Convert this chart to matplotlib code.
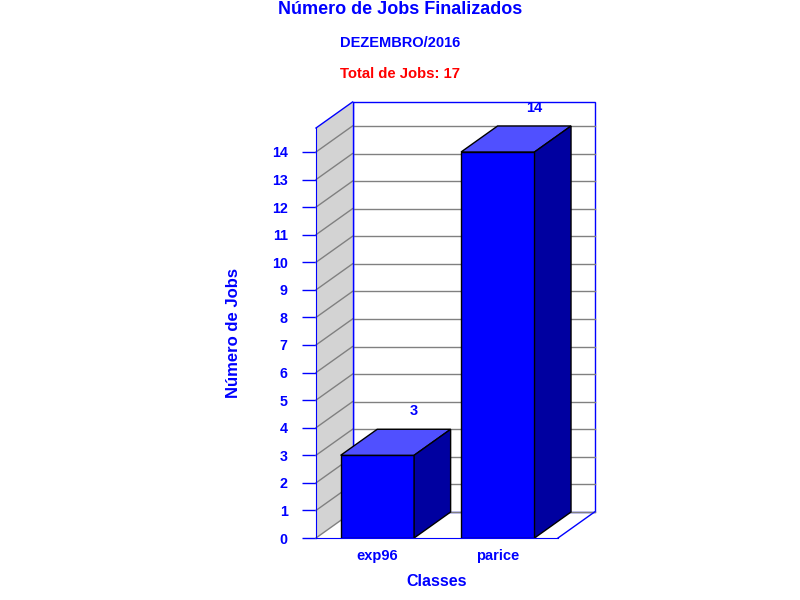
import matplotlib
matplotlib.use('Agg')
import matplotlib.pyplot as plt
from matplotlib.patches import Polygon, Rectangle

# data
classes = ['exp96', 'parice']
jobs = [3, 14]
yticks = list(range(0, 15))
title = 'Número de Jobs Finalizados'
subtitle = 'DEZEMBRO/2016'
total_label = 'Total de Jobs: %d' % sum(jobs)

BLUE = '#0000FF'
TOP = '#5050FF'
SIDE = '#0000A0'
WALL = '#D3D3D3'
GRID = '#808080'

plt.rcParams['font.family'] = ['Liberation Sans', 'DejaVu Sans']
plt.rcParams['font.weight'] = 'bold'

fig = plt.figure(figsize=(8, 6), dpi=100)
ax_pos = [316 / 800, 62 / 600, 242 / 800, 410 / 600]
ax = fig.add_axes(ax_pos)
ax.set_facecolor('none')
x0, x1 = -0.51, 1.5
ymax = 14.87
ax.set_xlim(x0, x1)
ax.set_ylim(0, ymax)

# depth of the fake 3d box, ~36 px right and 26 px up
ax_w = ax_pos[2] * 800
ax_h = ax_pos[3] * 600
dx = 36.5 * (x1 - x0) / ax_w
dy = 26 * ymax / ax_h
width = 0.61

# back wall + grid
ax.add_patch(Rectangle((x0 + dx, dy), x1 - x0, ymax, facecolor='white',
                       edgecolor=BLUE, lw=1, clip_on=False, zorder=1))
for v in yticks:
    ax.plot([x0 + dx, x1 + dx], [v + dy, v + dy], color=GRID, lw=1,
            clip_on=False, zorder=1.5)

# left wall + grid
ax.add_patch(Polygon([(x0, 0), (x0 + dx, dy), (x0 + dx, ymax + dy), (x0, ymax)],
                     closed=True, facecolor=WALL, edgecolor='none',
                     clip_on=False, zorder=1.6))
for v in yticks:
    ax.plot([x0, x0 + dx], [v, v + dy], color=GRID, lw=1, clip_on=False, zorder=1.7)
ax.plot([x0 + dx, x0 + dx], [dy, ymax + dy], color=BLUE, lw=1, clip_on=False, zorder=1.8)
ax.plot([x0, x0 + dx], [ymax, ymax + dy], color=BLUE, lw=1, clip_on=False, zorder=1.8)
# right floor edge
ax.plot([x1, x1 + dx], [0, dy], color=BLUE, lw=1, clip_on=False, zorder=1.8)

# bars
xs = list(range(len(classes)))
ax.bar(xs, jobs, width, color=BLUE, edgecolor='black', lw=1, zorder=3)
for i, v in zip(xs, jobs):
    l, r = i - width / 2, i + width / 2
    ax.add_patch(Polygon([(l, v), (l + dx, v + dy), (r + dx, v + dy), (r, v)],
                         closed=True, facecolor=TOP, edgecolor='black', lw=1,
                         clip_on=False, zorder=3))
    ax.add_patch(Polygon([(r, 0), (r + dx, dy), (r + dx, v + dy), (r, v)],
                         closed=True, facecolor=SIDE, edgecolor='black', lw=1,
                         clip_on=False, zorder=3))
    ax.annotate(str(v), (i + dx, v + dy), xytext=(0, 13), textcoords='offset points',
                ha='center', va='center', color=BLUE, fontsize=10.5, fontweight='bold',
                annotation_clip=False)

ax.spines['top'].set_visible(False)
ax.spines['right'].set_visible(False)
for s in ['left', 'bottom']:
    ax.spines[s].set_color(BLUE)
    ax.spines[s].set_zorder(4)

ax.set_yticks(yticks)
ax.tick_params(axis='y', direction='out', length=10.4, width=1, color=BLUE,
               labelcolor=BLUE, labelsize=10.3, pad=10)
ax.set_xticks(xs, classes)
ax.tick_params(axis='x', length=0, labelcolor=BLUE, labelsize=10.5, pad=8)

ax.set_ylabel('Número de Jobs', color=BLUE, fontsize=12, fontweight='bold')
ax.yaxis.set_label_coords(-0.31, (538 - 333) / 410)
ax.set_xlabel('Classes', color=BLUE, fontsize=11.5, fontweight='bold')
ax.xaxis.set_label_coords(0.5, -0.088)

fig.text(0.5, 1 - 9 / 600, title, ha='center', va='center', color=BLUE,
         fontsize=13, fontweight='bold')
fig.text(0.5, 1 - 43 / 600, subtitle, ha='center', va='center', color=BLUE,
         fontsize=10.5, fontweight='bold')
fig.text(0.5, 1 - 74 / 600, total_label, ha='center', va='center', color='#FF0000',
         fontsize=10.7, fontweight='bold')

fig.savefig('out.png', dpi=100)
